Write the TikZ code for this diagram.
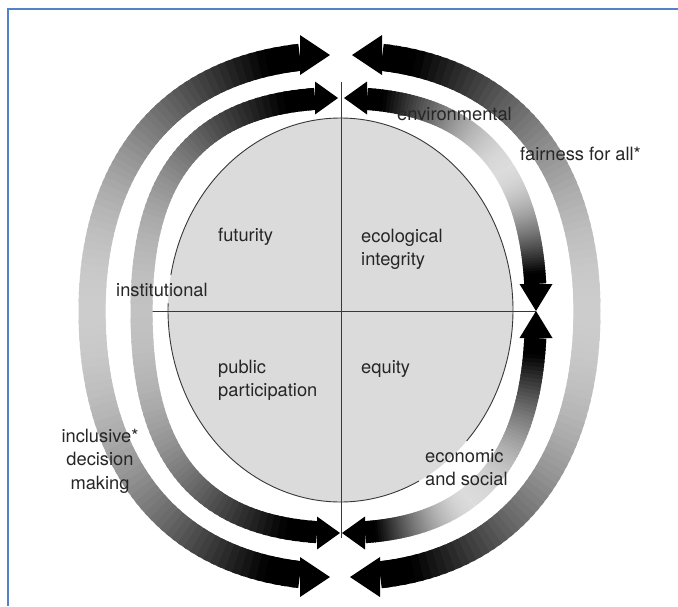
\documentclass[tikz,border=0pt]{standalone}
\usepackage{fontspec}
\setmainfont{TeX Gyre Heros}
\definecolor{frameblue}{RGB}{84,130,196}
\definecolor{corefill}{gray}{0.86}
\definecolor{inkgray}{gray}{0.22}
\newcommand\lblfont{\fontsize{18.3}{23.5}\selectfont}

% ring geometry: centre x, centre y, left/right half-width, top/bottom half-height,
% band width, handle factor at the top/bottom point, handle factor at the side point
\newcommand\ringset[9]{\def\rcx{#1}\def\rcy{#2}\def\ral{#3}\def\rar{#4}\def\rbt{#5}\def\rbb{#6}\def\rw{#7}\def\rkt{#8}\def\rks{#9}}
% choose a quarter of the ring: horizontal sign, vertical sign (y grows downwards)
\newcommand\quarter[2]{\def\qsx{#1}\def\qsy{#2}%
  \pgfmathsetmacro\qa{(#1<0)?\ral:\rar}\pgfmathsetmacro\qb{(#2<0)?\rbt:\rbb}}
\def\nseg{50}

% point of the current quarter at parameter #1 (0 = side point, 1 = top/bottom point)
\newcommand\qpt[3]{%
  \pgfmathsetmacro#2{\rcx+(\qsx)*\qa*((1-#1)^3+3*(1-#1)^2*#1+3*(1-#1)*#1^2*\rkt)}%
  \pgfmathsetmacro#3{\rcy+(\qsy)*\qb*(3*(1-#1)^2*#1*\rks+3*(1-#1)*#1^2+#1^3)}}

% shaded band from tail parameter #1 to head parameter #2, tail shade black!#3
\newcommand\qband[3]{%
  \foreach \i in {1,...,\nseg}{%
    \pgfmathsetmacro\ua{#1+(#2-(#1))*(\i-1)/\nseg}%
    \pgfmathsetmacro\ub{#1+(#2-(#1))*min(\i+0.6,\nseg)/\nseg}%
    \pgfmathsetmacro\sh{#3+(100-#3)*pow(min(1,(\i-0.5)/(0.92*\nseg)),1.8)}%
    \qpt{\ua}{\xa}{\ya}\qpt{\ub}{\xb}{\yb}%
    \draw[line width=\rw pt, draw=black!\sh] (\xa,\ya) -- (\xb,\yb);}}

% arrow heads: tip x, tip y, signed length, half width
\newcommand\headx[4]{\fill[black] (#1,#2) -- ({#1-(#3)},{#2-(#4)}) -- ({#1-(#3)},{#2+(#4)}) -- cycle;}
\newcommand\heady[4]{\fill[black] (#1,#2) -- ({#1-(#4)},{#2-(#3)}) -- ({#1+(#4)},{#2-(#3)}) -- cycle;}

\begin{document}
\begin{tikzpicture}[x=1pt,y=-1pt,
  lbl/.style={inner sep=0pt, font=\lblfont, text=black!85},
  axis/.style={draw=inkgray, line width=1pt}]
\useasboundingbox (0,0) rectangle (678,606);
\fill[white] (0,0) rectangle (678,606);

% frame
\draw[frameblue, line width=2pt] (8,606) -- (8,9) -- (678,9);

% core ellipse
\fill[corefill] (340.5,310) ellipse [x radius=172.5, y radius=192];
\draw[inkgray, line width=0.9pt] plot[domain=63:182, samples=80, smooth] ({340.5+172.5*cos(\x)},{310+192*sin(\x)});
\draw[inkgray, line width=0.9pt] plot[domain=190.5:403, samples=140, smooth] ({340.5+172.5*cos(\x)},{310+192*sin(\x)});

% quadrant axes
\coordinate (vtop) at (341,82);
\coordinate (vbot) at (341,538);
\coordinate (hleft) at (143,311);
\coordinate (hright) at (536,311);
\draw[axis] (vtop) -- (vbot);
\draw[axis] (hleft) -- (hright);

% outer ring
\ringset{341}{311}{249}{246}{256}{266}{27}{0.7}{0.56}
\quarter{-1}{-1}\qband{0}{0.9177}{20}\headx{330}{55}{30}{20}
\quarter{1}{-1}\qband{0}{0.9167}{20}\headx{352}{55}{-30}{20}
\quarter{-1}{1}\qband{0}{0.9177}{20}\headx{330}{577}{30}{20}
\quarter{1}{1}\qband{0}{0.9209}{20}\headx{350}{577}{-30}{20}

% inner ring
\ringset{341}{311}{199.5}{195}{213}{222}{22}{0.78}{0.58}
\quarter{-1}{-1}\qband{0}{0.942}{24}\headx{338}{98}{23}{16.5}
\quarter{1}{-1}\qband{0.45}{0.9406}{14}\headx{344}{98}{-23}{16.5}
\quarter{1}{-1}\qband{0.45}{0.0745}{14}\heady{536}{311}{27}{16.5}
\quarter{1}{1}\qband{0.63}{0.0714}{14}\heady{536}{311}{-27}{16.5}
\quarter{1}{1}\qband{0.63}{0.9453}{14}\headx{342}{533}{-23}{16.5}
\quarter{-1}{1}\qband{0}{0.9466}{24}\headx{340}{533}{23}{16.5}

% labels
\node[lbl, anchor=base west] (futurity) at (218,241) {futurity};
\node[lbl, anchor=base west] (ecological) at (361,242) {\begin{tabular}[t]{@{}l@{}}ecological\\integrity\end{tabular}};
\node[lbl, anchor=base west] (public) at (218,373) {\begin{tabular}[t]{@{}l@{}}public\\participation\end{tabular}};
\node[lbl, anchor=base west] (equity) at (361,373) {equity};
\node[lbl, anchor=base west] (institutional) at (116,296) {institutional};
\node[lbl, anchor=base west] (environmental) at (397,120) {environmental};
\node[lbl, anchor=base west] (fairness) at (520,160) {fairness for all*};
\node[lbl, anchor=base west] (economic) at (425,462) {\begin{tabular}[t]{@{}l@{}}economic\\and social\end{tabular}};
\node[lbl, anchor=base] (inclusive) at (100,442) {\begin{tabular}[t]{@{}c@{}}inclusive*\\decision\\making\end{tabular}};
\end{tikzpicture}
\end{document}
